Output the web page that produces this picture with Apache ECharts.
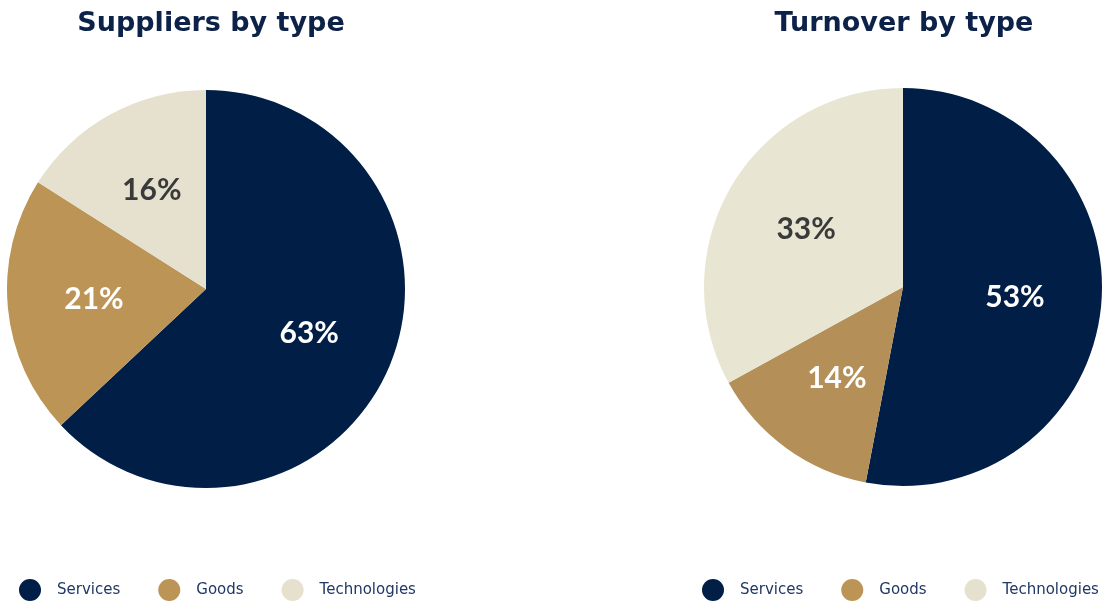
<!DOCTYPE html>
<html>
<head>
<meta charset="utf-8">
<script src="https://cdn.jsdelivr.net/npm/echarts@6/dist/echarts.min.js"></script>
<style>
  html, body { margin: 0; padding: 0; background: #fff; }
  #chart { width: 1105px; height: 602px; }
</style>
</head>
<body>
<div id="chart"></div>
<script>
// 数据
const categories = ['Services', 'Goods', 'Technologies'];
const supplierShares = [63, 21, 16];
const turnoverShares = [53, 14, 33];
const chartTitles = ['Suppliers by type', 'Turnover by type'];

const NAVY = '#001e46';
const sliceColors = { left: [NAVY, '#bb9456', '#e6e0cf'], right: [NAVY, '#b49058', '#e8e6d2'] };
const labelColors = ['#ffffff', '#ffffff', '#3a3a3a'];
const FONT = 'Lato, "DejaVu Sans", sans-serif';
const WIDE = '"DejaVu Sans", sans-serif';
const R = 199;

function pieSeries(values, center, colors) {
    const data = categories.map((name, i) => ({
        name, value: values[i], itemStyle: { color: colors[i] }
    }));
    return [{
        type: 'pie',
        center, radius: R,
        startAngle: 90, clockwise: true,
        itemStyle: { borderWidth: 0 },
        label: { show: false },
        labelLine: { show: false },
        emphasis: { disabled: true },
        data
    }, {
        // 透明层只负责标签位置
        type: 'pie',
        center, radius: [20, R],
        startAngle: 90, clockwise: true,
        silent: true,
        itemStyle: { color: 'transparent', borderWidth: 0 },
        label: {
            show: true, position: 'inside',
            fontFamily: FONT, fontSize: 30, fontWeight: 'bold',
            formatter: p => `${p.value}%`
        },
        emphasis: { disabled: true },
        data: categories.map((name, i) => ({
            name, value: values[i],
            label: { color: labelColors[i] }
        }))
    }];
}

function legendAt(left) {
    return {
        left, top: 579, padding: 0,
        icon: 'circle',
        itemWidth: 22, itemHeight: 22,
        itemGap: 38,
        selectedMode: false,
        data: categories,
        textStyle: { fontFamily: WIDE, fontSize: 15, color: '#1f3864', padding: [0, 0, 0, 11] }
    };
}

const titleStyle = { fontFamily: WIDE, fontSize: 27, fontWeight: 'bold', color: '#0c2249' };

const chart = echarts.init(document.getElementById('chart'));
chart.setOption({
    backgroundColor: '#fff',
    animation: false,
    title: [
        { text: chartTitles[0], left: 206, top: 5, textAlign: 'center', textStyle: titleStyle },
        { text: chartTitles[1], left: 899, top: 5, textAlign: 'center', textStyle: titleStyle }
    ],
    legend: [legendAt(19), legendAt(702)],
    series: [
        ...pieSeries(supplierShares, [206, 289], sliceColors.left),
        ...pieSeries(turnoverShares, [903, 287], sliceColors.right)
    ]
});
</script>
</body>
</html>
